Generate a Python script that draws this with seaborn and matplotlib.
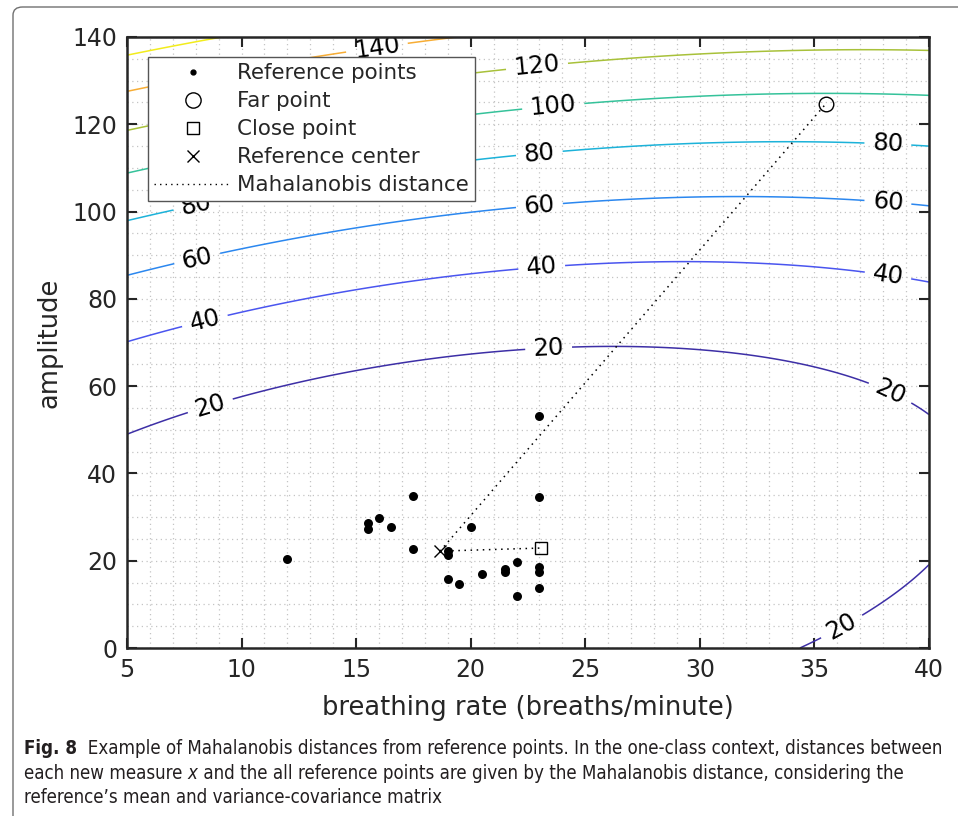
import numpy as np
import matplotlib
matplotlib.use("Agg")
import matplotlib.pyplot as plt
import seaborn as sns
from matplotlib.lines import Line2D
from matplotlib.patches import FancyBboxPatch
from matplotlib.ticker import MultipleLocator
from matplotlib import font_manager
from matplotlib.font_manager import FontProperties

# Reference measurements (breathing rate, amplitude)
breathing_rate = [12.0, 15.5, 15.5, 16.0, 16.5, 17.5, 17.5, 19.0, 19.0, 20.0, 23.0,
                  23.0, 22.0, 21.5, 21.5, 20.5, 19.0, 19.5, 23.0, 23.0, 23.0, 22.0]
amplitude = [20.3, 28.6, 27.3, 29.9, 27.8, 34.8, 22.6, 22.3, 21.2, 27.8, 53.2,
             34.5, 19.7, 18.0, 17.3, 17.0, 15.9, 14.7, 18.5, 17.4, 13.8, 12.0]

# Reference statistics used for the distance field
reference_center = [18.66, 22.2]
covariance = [[26.8, 17.7], [17.7, 110.0]]

# New measures
far_point = [35.5, 124.7]
close_point = [23.05, 22.9]

distance_levels = [20, 40, 60, 80, 100, 120, 140, 160]
level_colors = ["#3d2fa6", "#4a55ef", "#2b87ef", "#1cb2d9", "#35c29a",
                "#a8c13a", "#f7ad35", "#f2ec1c"]

# where the inline contour labels sit
label_positions = [(15.9, 137.8), (22.9, 132.9), (23.6, 124.2), (23.0, 113.0),
                   (23.0, 101.3), (23.1, 87.1), (23.4, 68.7), (38.2, 115.0),
                   (38.2, 101.7), (38.2, 85.0), (38.3, 58.4), (8.05, 101.0),
                   (8.05, 89.6), (8.4, 74.9), (8.6, 56.1), (36.2, 4.8)]

sns.set_theme(style="ticks")
plt.rcParams["font.family"] = ["DejaVu Sans"]

W, H = 958, 816
fig = plt.figure(figsize=(W / 100, H / 100), dpi=100)
fig.patch.set_facecolor("white")
ax = fig.add_axes([127 / W, 1 - 648 / H, 802 / W, 611 / H])
ax.set_facecolor("white")

# squared Mahalanobis distance over the plane
xs = np.linspace(5, 40, 500)
ys = np.linspace(0, 140, 500)
gx, gy = np.meshgrid(xs, ys)
inv = np.linalg.inv(np.array(covariance))
dx = gx - reference_center[0]
dy = gy - reference_center[1]
d2 = inv[0, 0] * dx ** 2 + 2 * inv[0, 1] * dx * dy + inv[1, 1] * dy ** 2

cs = ax.contour(gx, gy, d2, levels=distance_levels, colors=level_colors,
                linewidths=1.1, zorder=2)
ax.clabel(cs, fmt="%d", fontsize=17.5, inline=True, inline_spacing=8,
          manual=label_positions, colors="black")

# distances from the reference center to both new measures
dots = (0, (1, 3))
ax.plot([reference_center[0], far_point[0]], [reference_center[1], far_point[1]],
        color="black", lw=1.1, ls=dots, zorder=3)
ax.plot([reference_center[0], close_point[0]], [reference_center[1], close_point[1]],
        color="black", lw=1.1, ls=dots, zorder=3)

sns.scatterplot(x=breathing_rate, y=amplitude, color="black", s=42,
                linewidth=0, ax=ax, zorder=4, legend=False)
ax.plot(far_point[0], far_point[1], marker="o", ms=10.5, mfc="none", mec="black",
        mew=1.0, ls="none", zorder=5)
ax.plot(close_point[0], close_point[1], marker="s", ms=8.5, mfc="none", mec="black",
        mew=1.0, ls="none", zorder=5)
ax.plot(reference_center[0], reference_center[1], marker="x", ms=8, color="black",
        mew=1.0, ls="none", zorder=5)

ax.set_xlim(5, 40)
ax.set_ylim(0, 140)
ax.xaxis.set_major_locator(MultipleLocator(5))
ax.yaxis.set_major_locator(MultipleLocator(20))
ax.xaxis.set_minor_locator(MultipleLocator(1))
ax.yaxis.set_minor_locator(MultipleLocator(5))
ax.grid(which="both", color="#c4c4c4", lw=0.9, ls=(0, (1, 2.8)), zorder=0)
ax.set_axisbelow(True)
ax.tick_params(which="major", direction="in", top=True, right=True, length=7,
               width=1.5, labelsize=17, colors="#262626", pad=7)
ax.tick_params(which="minor", length=0)
for s in ax.spines.values():
    s.set_linewidth(1.8)
    s.set_color("#262626")
    s.set_zorder(6)

ax.set_xlabel("breathing rate (breaths/minute)", fontsize=18.5, color="#262626", va="center")
ax.set_ylabel("amplitude", fontsize=18.5, color="#262626", va="center")
ax.xaxis.set_label_coords(0.5, (648 - 708) / 611)
ax.yaxis.set_label_coords((50 - 127) / 802, 0.5)

handles = [
    Line2D([], [], ls="none", marker=".", color="black", ms=7),
    Line2D([], [], ls="none", marker="o", mfc="none", mec="black", ms=11, mew=1.0),
    Line2D([], [], ls="none", marker="s", mfc="none", mec="black", ms=8.5, mew=1.0),
    Line2D([], [], ls="none", marker="x", color="black", ms=8.5, mew=1.0),
    Line2D([], [], ls=dots, color="black", lw=1.0),
]
labels = ["Reference points", "Far point", "Close point", "Reference center",
          "Mahalanobis distance"]
leg = ax.legend(handles, labels, loc="upper left",
                bbox_to_anchor=((148 - 127) / 802, 1 - (57 - 37) / 611),
                borderaxespad=0, fontsize=15.4, frameon=True, fancybox=False,
                handlelength=3.6, handletextpad=0.25, labelspacing=0.37,
                borderpad=0.3, framealpha=1)
leg.get_frame().set_edgecolor("#555555")
leg.get_frame().set_linewidth(1.0)
leg.set_zorder(10)

# page frame around the figure
frame = FancyBboxPatch((13 / W, -0.1), 1.2, 1 - 7 / H + 0.1,
                       boxstyle="round,pad=0,rounding_size=0.01",
                       transform=fig.transFigure, fill=False,
                       ec="#707070", lw=1.0)
fig.add_artist(frame)


# caption font: prefer a narrow/condensed sans face when one is installed
def pick_caption_fonts():
    entries = font_manager.fontManager.ttflist

    def is_narrow(f):
        st = f.stretch
        narrow_stretch = st in ("condensed", "semi-condensed", "extra-condensed",
                                "ultra-condensed") or (isinstance(st, int) and st < 500)
        return ("Narrow" in f.name or "Condensed" in f.name or narrow_stretch
                or "Condensed" in f.fname or "Narrow" in f.fname)

    narrow = [f for f in entries if is_narrow(f) and "Mono" not in f.name
              and "Serif" not in f.name and "Serif" not in f.fname]

    def find(weight_bold, italic):
        best = None
        for f in narrow:
            w = f.weight if isinstance(f.weight, int) else (700 if "bold" in str(f.weight) else 400)
            isb = w >= 600
            isi = f.style in ("italic", "oblique")
            if isb == weight_bold and isi == italic:
                best = f
                break
        return best

    reg = find(False, False)
    if reg is None:
        base = FontProperties(family="Liberation Sans")
        return (base, FontProperties(family="Liberation Sans", weight="bold"),
                FontProperties(family="Liberation Sans", style="italic"))
    bold = find(True, False) or reg
    ital = find(False, True) or reg
    return (FontProperties(fname=reg.fname), FontProperties(fname=bold.fname),
            FontProperties(fname=ital.fname))


fp_reg, fp_bold, fp_ital = pick_caption_fonts()
fonts = {"regular": fp_reg, "bold": fp_bold, "italic": fp_ital}
renderer = fig.canvas.get_renderer()

caption = [
    [("Fig. 8", "bold"),
     ("  Example of Mahalanobis distances from reference points. In the one-class context, distances between",
      "regular")],
    [("each new measure ", "regular"), ("x", "italic"),
     (" and the all reference points are given by the Mahalanobis distance, considering the",
      "regular")],
    [("reference\u2019s mean and variance-covariance matrix", "regular")],
]


def run_width(runs, size):
    total = 0
    for text, kind in runs:
        fp = fonts[kind].copy()
        fp.set_size(size)
        t = fig.text(0, 0, text, fontproperties=fp)
        total += t.get_window_extent(renderer).width
        t.remove()
    return total


size = 12.0
size *= 921 / run_width(caption[0], size)

for runs, base in zip(caption, [754, 779, 803]):
    x = 24
    for text, kind in runs:
        fp = fonts[kind].copy()
        fp.set_size(size)
        t = fig.text(x / W, 1 - base / H, text, fontproperties=fp, va="baseline",
                     ha="left", color="#231f20")
        x += t.get_window_extent(renderer).width

fig.savefig("out.png", dpi=100, facecolor="white")
